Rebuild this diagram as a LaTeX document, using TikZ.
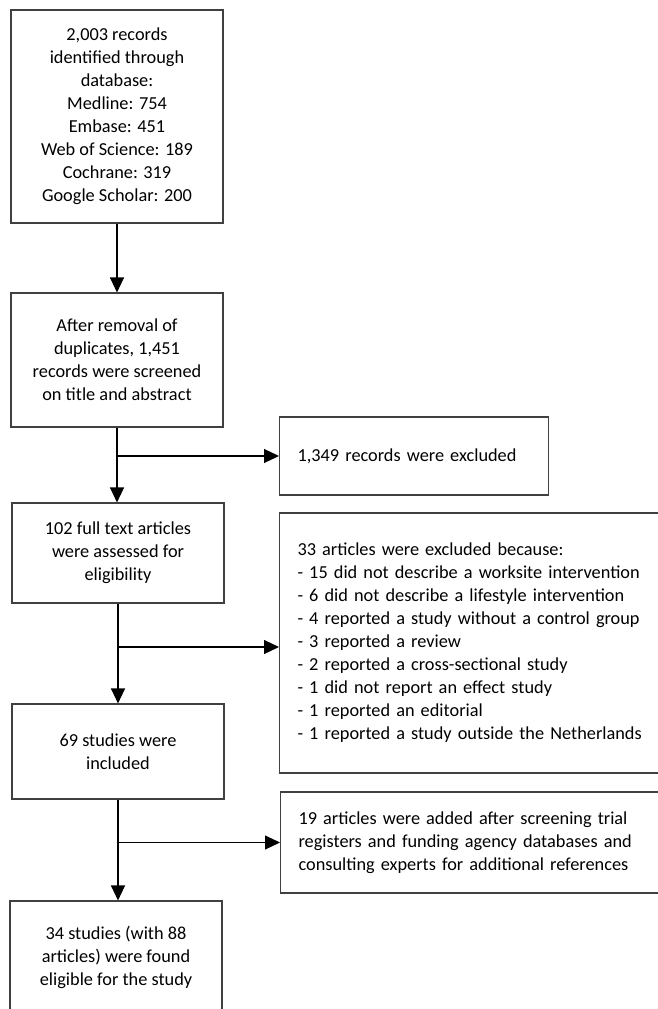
\documentclass[tikz,border=0pt]{standalone}
\usepackage{fontspec}
\setmainfont{Carlito}
\usetikzlibrary{arrows.meta,calc}
\begin{document}
\begin{tikzpicture}[x=1pt,y=-1pt,
  box/.style={draw=black!75, line width=1.1pt, inner sep=0pt,
    font=\fontsize{18.3}{23}\selectfont, text=black},
  cbox/.style={box, align=center, minimum width=212pt},
  lbox/.style={box, align=left, anchor=west, inner xsep=18pt},
  arr/.style={draw=black, line width=1.1pt, -{Triangle[length=15pt,width=14pt]}}]
\useasboundingbox (0,0) rectangle (658,1009);
\clip (0,0) rectangle (658,1009);
\node[cbox, minimum height=213pt] (b1) at (117,116.5)
  {2,003 records\\identified through\\database:\\Medline: 754\\Embase: 451\\Web of Science: 189\\Cochrane: 319\\Google Scholar: 200};
\node[cbox, minimum height=134pt] (b2) at (117,360)
  {After removal of\\duplicates, 1,451\\records were screened\\on title and abstract};
\node[cbox, minimum height=100pt] (b5) at (118,553)
  {102 full text articles\\were assessed for\\eligibility};
\node[cbox, minimum height=95pt] (b6) at (118,751.5)
  {69 studies were\\included};
\node[cbox, minimum height=112pt] (b7) at (116,957)
  {34 studies (with 88\\articles) were found\\eligible for the study};
\node[lbox, text width=233pt, minimum height=78pt] (b3) at (279,456)
  {1,349 records were excluded};
\node[lbox, text width=365pt, minimum height=260pt] (b4) at (279,643)
  {33 articles were excluded because:\\- 15 did not describe a worksite intervention\\- 6 did not describe a lifestyle intervention\\- 4 reported a study without a control group\\- 3 reported a review\\- 2 reported a cross-sectional study\\- 1 did not report an effect study\\- 1 reported an editorial\\- 1 reported a study outside the Netherlands};
\node[lbox, text width=365pt, minimum height=101pt] (b19) at (280,842.5)
  {19 articles were added after screening trial\\registers and funding agency databases and\\consulting experts for additional references};
\draw[arr] (b1.south) -- (b2.north);
\draw[arr] (b2.south) -- (b2.south |- b5.north);
\draw[arr] (b5.south) -- (b5.south |- b6.north);
\draw[arr] (b6.south) -- (b6.south |- b7.north);
\coordinate (j1) at (b2.south |- b3.west);
\coordinate (j2) at (b5.south |- 0,647);
\coordinate (j3) at (b6.south |- b19.west);
\draw[arr] (j1) -- (b3.west);
\draw[arr] (j2) -- (b4.west |- j2);
\draw[arr] (j3) -- (b19.west);
\end{tikzpicture}
\end{document}
